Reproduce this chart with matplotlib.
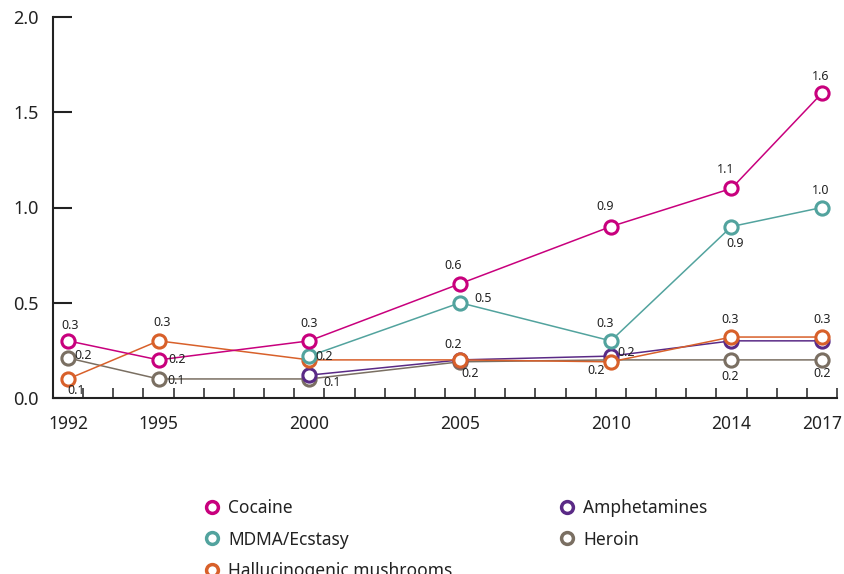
import matplotlib
matplotlib.use("Agg")
import matplotlib.pyplot as plt
import numpy as np
from matplotlib.lines import Line2D

plt.rcParams['font.family'] = ['Noto Sans', 'DejaVu Sans']

# data
years = [1992, 1995, 2000, 2005, 2010, 2014, 2017]
cocaine = [0.30, 0.20, 0.30, 0.60, 0.90, 1.10, 1.60]
mdma_years = [2000, 2005, 2010, 2014, 2017]
mdma = [0.22, 0.50, 0.30, 0.90, 1.00]
mushrooms = [0.10, 0.30, 0.20, 0.20, 0.19, 0.32, 0.32]
amph_years = [2000, 2005, 2010, 2014, 2017]
amph = [0.12, 0.20, 0.22, 0.30, 0.30]
heroin = [0.21, 0.10, 0.10, 0.19, 0.20, 0.20, 0.20]

# label offsets in pixels (None = no label shown)
off_coc = [(2, 15), (19, 0), (0, 17), (-7, 18), (-6, 20), (-6, 19), (-1, 17)]
off_mdma = [(15, 0), (23, 4), (-6, 17), (4, -17), (-1, 17)]
off_mush = [(8, -12), (4, 18), None, (-7, 15), (-15, -9), (-1, 18), (0, 18)]
off_amph = [(23, -7), None, (15, 4), None, None]
off_her = [(15, 2), (18, -2), None, (10, -12), None, (-1, -17), (0, -14)]

colors = {
    'Cocaine': '#C8007D',
    'MDMA/Ecstasy': '#52A39E',
    'Hallucinogenic mushrooms': '#D8602A',
    'Amphetamines': '#5A2A86',
    'Heroin': '#7A6F62',
}

series = [
    ('Heroin', years, heroin, off_her),
    ('Amphetamines', amph_years, amph, off_amph),
    ('Hallucinogenic mushrooms', years, mushrooms, off_mush),
    ('MDMA/Ecstasy', mdma_years, mdma, off_mdma),
    ('Cocaine', years, cocaine, off_coc),
]

fig = plt.figure(figsize=(8.44, 5.74), dpi=100)
ax = fig.add_axes([53/844, 1-398/574, (837-53)/844, (398-17)/574])

for z, (name, xs, ys, offs) in enumerate(series):
    c = colors[name]
    ax.plot(xs, ys, color=c, lw=1.1, marker='o', ms=9.5, mfc='white',
            mec=c, mew=2.2, zorder=3+z, clip_on=False)
    for x, y, o in zip(xs, ys, offs):
        if o is None:
            continue
        ax.annotate(f"{y:.1f}", (x, y), xytext=o, textcoords='offset pixels',
                    ha='center', va='center', fontsize=9, color='#222222',
                    zorder=20)

ax.set_xlim(1991.5, 2017.5)
ax.set_ylim(0, 2.0)
ax.spines['top'].set_visible(False)
ax.spines['right'].set_visible(False)
for s in ['left', 'bottom']:
    ax.spines[s].set_linewidth(1.5)
    ax.spines[s].set_color('#222222')

ax.set_xticks(years)
ax.set_xticklabels([str(y) for y in years])
ax.set_xticks(np.arange(1992.5, 2018, 1), minor=True)
ax.tick_params(axis='x', which='major', length=0, pad=12, labelsize=12.5,
               colors='#222222')
ax.tick_params(axis='x', which='minor', direction='in', length=7, width=1.1,
               color='#222222')
ax.set_yticks([0, 0.5, 1.0, 1.5, 2.0])
ax.set_yticklabels(['0.0', '0.5', '1.0', '1.5', '2.0'])
ax.tick_params(axis='y', direction='in', length=14, width=1.5, pad=10,
               labelsize=13, colors='#222222')

def handle(name):
    c = colors[name]
    return Line2D([], [], ls='none', marker='o', ms=8.5, mfc='white', mec=c, mew=2.5)

col1 = ['Cocaine', 'MDMA/Ecstasy', 'Hallucinogenic mushrooms']
col2 = ['Amphetamines', 'Heroin']
for names, xpos in [(col1, 203/844), (col2, 558/844)]:
    fig.legend([handle(n) for n in names], names, loc='upper left',
               bbox_to_anchor=(xpos, 1-499/574), frameon=False, fontsize=12.5,
               handlelength=1.0, handletextpad=0.45, labelspacing=0.78,
               borderpad=0, borderaxespad=0, labelcolor='#222222')

fig.savefig('out.png', dpi=100)
